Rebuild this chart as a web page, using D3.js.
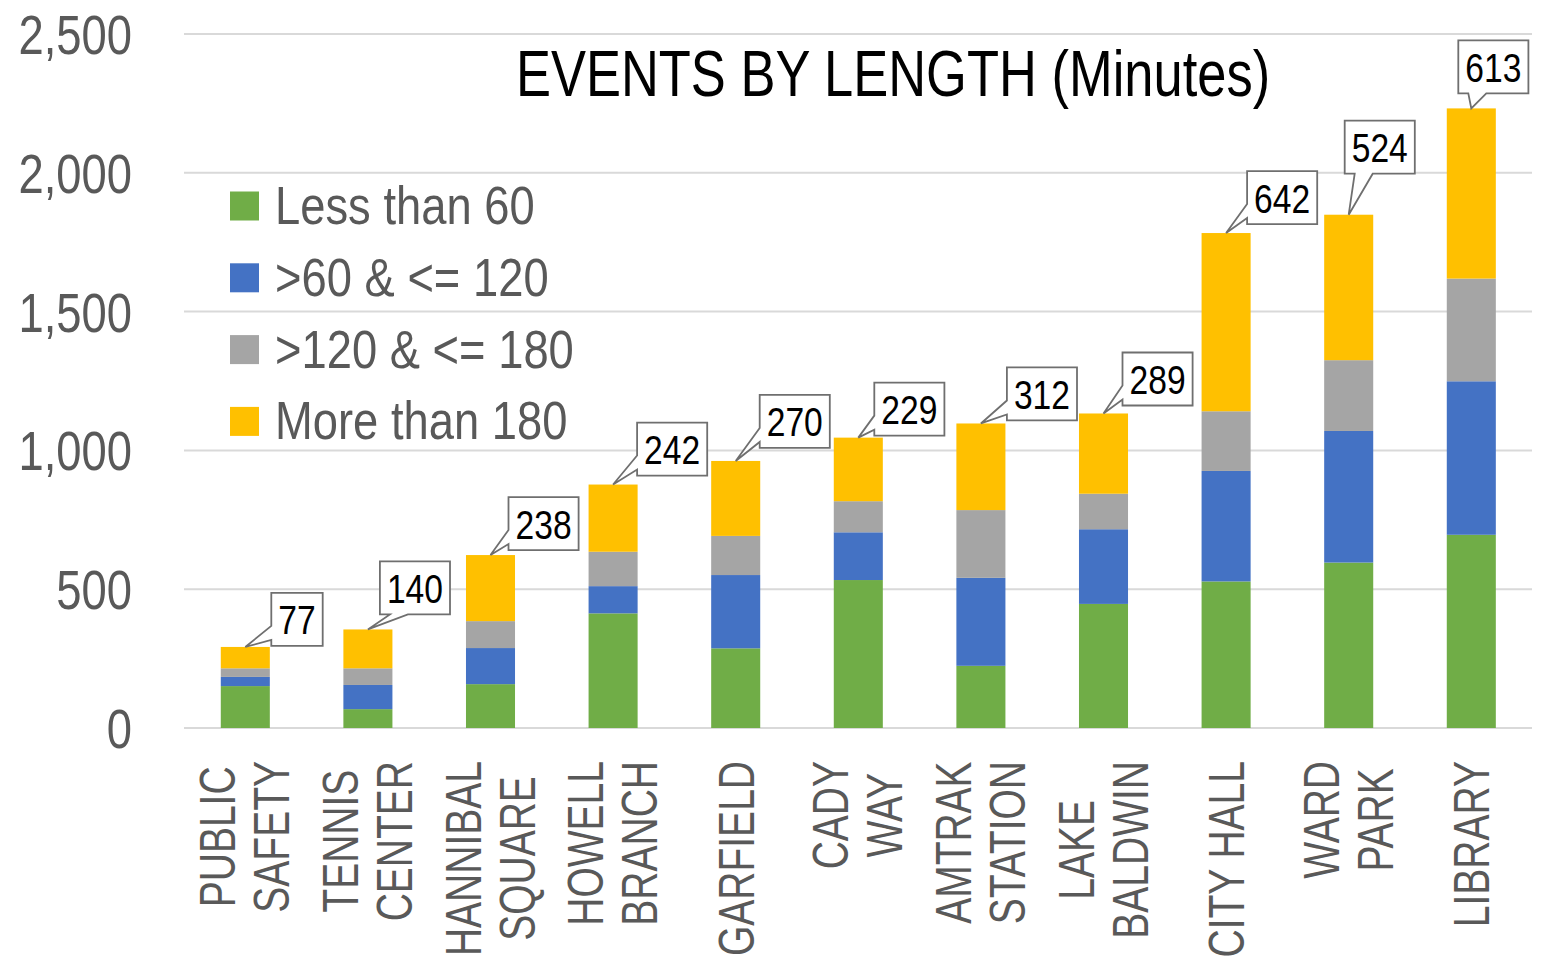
<!DOCTYPE html>
<html>
  <head>
    <title>Events by Length</title>
    <script src="https://d3js.org/d3.v7.min.js"></script>
  </head>
  <style>
    body {
      margin: 0;
      background-color: white;
    }
    text {
      font-family: "Liberation Sans", Arial, sans-serif;
    }
  </style>
  <body>
    <div id="chart"></div>
    <script>

    // categories (line breaks as in the original axis)
    var categories = ["PUBLIC\nSAFETY", "TENNIS\nCENTER", "HANNIBAL\nSQUARE", "HOWELL\nBRANCH",
      "GARFIELD", "CADY\nWAY", "AMTRAK\nSTATION", "LAKE\nBALDWIN", "CITY HALL", "WARD\nPARK", "LIBRARY"];

    var seriesNames = ["Less than 60", ">60 & <= 120", ">120 & <= 180", "More than 180"];

    var lessThan60   = [151, 68, 158, 413, 287, 533, 224, 447, 528, 596, 696];
    var from60to120  = [33, 87, 130, 98, 264, 172, 317, 269, 398, 474, 553];
    var from120to180 = [31, 60, 97, 124, 141, 112, 244, 128, 215, 255, 370];
    var moreThan180  = [77, 140, 238, 242, 270, 229, 312, 289, 642, 524, 613];

    var yTicks = [0, 500, 1000, 1500, 2000, 2500];

    // where each callout box sits, relative to the top of its bar
    var calloutOffset = [[26, -1], [12, -15], [18, -5], [24, -9], [24, -13], [16, -2],
      [26, -3], [19, -8], [21, -9], [-4, -41], [-13, -15]];

    var colors = ["#70ad47", "#4472c4", "#a5a5a5", "#ffc000"];

    var width = 1550;
    var height = 959;
    var narrow = 0.81;   // the original font is a condensed sans

    var svg = d3.select("#chart").append("svg")
        .attr("width", width)
        .attr("height", height);

    var x = d3.scaleBand()
        .domain(d3.range(categories.length))
        .range([184, 1532.6])
        .paddingInner(0.6)
        .paddingOuter(0.3);

    var y = d3.scaleLinear()
        .domain([0, 2500])
        .range([728, 34]);

    // table for the stack
    var table = categories.map(function(c, i) {
      return {s0: lessThan60[i], s1: from60to120[i], s2: from120to180[i], s3: moreThan180[i]};
    });
    var stacked = d3.stack().keys(["s0", "s1", "s2", "s3"])(table);

    // gridlines
    svg.append("g").selectAll("line")
        .data(yTicks)
        .enter().append("line")
          .attr("x1", 184)
          .attr("x2", 1532)
          .attr("y1", function(d) { return y(d); })
          .attr("y2", function(d) { return y(d); })
          .style("stroke", "#d9d9d9")
          .style("stroke-width", 2);

    // y tick labels
    var fmt = d3.format(",");
    svg.append("g").selectAll("text")
        .data(yTicks)
        .enter().append("text")
          .attr("transform", function(d) { return "translate(132," + (y(d) + 20) + ") scale(" + narrow + ",1)"; })
          .attr("text-anchor", "end")
          .style("font-size", "56px")
          .style("fill", "#595959")
          .text(function(d) { return fmt(d); });

    // bars
    svg.append("g").selectAll("g")
        .data(stacked)
        .enter().append("g")
          .style("fill", function(d, i) { return colors[i]; })
        .selectAll("rect")
        .data(function(d) { return d; })
        .enter().append("rect")
          .attr("x", function(d, i) { return x(i); })
          .attr("width", x.bandwidth())
          .attr("y", function(d) { return y(d[1]); })
          .attr("height", function(d) { return y(d[0]) - y(d[1]); });

    // category labels, rotated
    var catG = svg.append("g");
    categories.forEach(function(c, i) {
      var lines = c.split("\n");
      var cx = x(i) + x.bandwidth() / 2;
      var nodes = lines.map(function(line, j) {
        var bx = lines.length === 1 ? cx + 18 : cx + (j === 0 ? -10 : 44);
        return catG.append("text")
          .attr("text-anchor", "middle")
          .style("font-size", "50px")
          .style("fill", "#595959")
          .datum(bx)
          .text(line);
      });
      var longest = d3.max(nodes, function(n) { return n.node().getComputedTextLength(); }) * 0.78;
      nodes.forEach(function(n) {
        n.attr("transform", "translate(" + n.datum() + "," + (761 + longest / 2) + ") rotate(-90) scale(0.78,1)");
      });
    });

    // callout labels for the top series
    var labelG = svg.append("g");
    moreThan180.forEach(function(v, i) {
      var tipX = x(i) + x.bandwidth() / 2;
      var tipY = y(stacked[3][i][1]);
      var t = labelG.append("text")
        .attr("text-anchor", "middle")
        .style("font-size", "41px")
        .style("fill", "black")
        .text(v);
      var tw = t.node().getComputedTextLength() * 0.82;
      var bw = tw + 14, bh = 53;
      var left = tipX + calloutOffset[i][0];
      var bottom = tipY + calloutOffset[i][1];
      var top = bottom - bh, right = left + bw;
      var dx = left - tipX, dy = tipY - bottom;
      var p;
      if (dy > dx) {
        p = "M" + left + "," + top + "H" + right + "V" + bottom + "H" + (left + 28) +
            "L" + tipX + "," + tipY + "L" + (left + 10) + "," + bottom + "H" + left + "Z";
      } else {
        p = "M" + left + "," + top + "H" + right + "V" + bottom + "H" + left + "V" + (bottom - 6) +
            "L" + tipX + "," + tipY + "L" + left + "," + (bottom - 20) + "Z";
      }
      labelG.insert("path", "text")
        .attr("d", p)
        .style("fill", "white")
        .style("stroke", "#6f6f6f")
        .style("stroke-width", 1.8);
      t.attr("transform", "translate(" + (left + bw / 2) + "," + (top + bh / 2 + 15) + ") scale(0.82,1)");
    });

    // legend
    var legend = svg.append("g").selectAll("g")
        .data(seriesNames)
        .enter().append("g")
          .attr("transform", function(d, i) { return "translate(230," + (206 + i * 71.8) + ")"; });
    legend.append("rect")
        .attr("x", 0)
        .attr("y", -14.5)
        .attr("width", 29)
        .attr("height", 29)
        .style("fill", function(d, i) { return colors[i]; });
    legend.append("text")
        .attr("transform", "translate(45,18) scale(0.84,1)")
        .style("font-size", "54px")
        .style("fill", "#595959")
        .text(function(d) { return d; });

    // title
    svg.append("text")
        .attr("transform", "translate(893," + 96 + ") scale(" + 0.82 + ",1)")
        .attr("text-anchor", "middle")
        .style("font-size", "64px")
        .style("fill", "black")
        .text("EVENTS BY LENGTH (Minutes)");

    </script>
  </body>
</html>
